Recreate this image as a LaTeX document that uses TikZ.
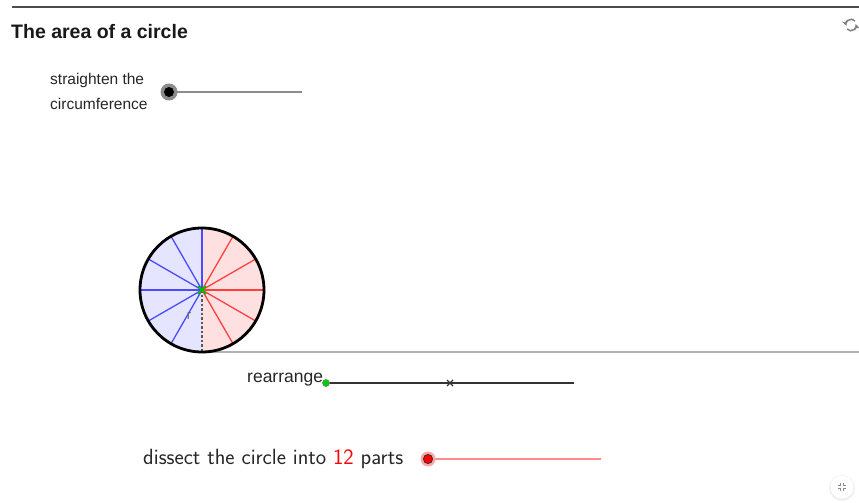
\documentclass[tikz,border=0pt]{standalone}
\usepackage{fontspec}
\setsansfont{Liberation Sans}
\newfontfamily\lmsans{Latin Modern Sans}
\begin{document}
\begin{tikzpicture}[x=1pt,y=-1pt,
  spokeB/.style={blue!70!white,line width=1.3pt},
  spokeR/.style={red!75!white,line width=1.3pt},
  lbl/.style={font=\sffamily\fontsize{15.5}{17}\selectfont,text=black!85,inner sep=0pt}]
\useasboundingbox (0,0) rectangle (859,503);
\fill[white] (0,0) rectangle (859,503);
% top rule
\draw[black!70,line width=1.1pt] (12,7) -- (859,7);
\node[font=\sffamily\bfseries\fontsize{19.5}{21}\selectfont,anchor=west,inner sep=0pt,text=black!90] (title) at (11,32) {The area of a circle};
% refresh icon
\node[inner sep=0pt] (refresh) at (851,25) {};
\draw[black!50,line width=1.5pt,-stealth] (refresh.center) ++(4pt,4pt) arc (40:200:5pt);
\draw[black!50,line width=1.5pt,-stealth] (refresh.center) ++(-4pt,-4pt) arc (220:380:5pt);
% slider 1
\node[lbl,anchor=west] (st1) at (50,80) {straighten the};
\node[lbl,anchor=west] (st2) at (50,104) {circumference};
\coordinate (s1a) at (169,92);
\coordinate (s1b) at (302,92);
\draw[black!45,line width=2pt] (s1a) -- (s1b);
\fill[black!45] (s1a) circle (8.5);
\fill[black] (s1a) circle (5);
% baseline
\coordinate (c) at (202,290);
\coordinate (base) at (202,352);
\coordinate (baseEnd) at (859,352);
\draw[black!30,line width=1.2pt] (base) -- (baseEnd);
% circle halves
\fill[blue!10] (c) -- ++(90:62pt) arc (90:270:62pt) -- cycle;
\fill[red!12] (c) -- ++(90:62pt) arc (90:-90:62pt) -- cycle;
\foreach \a in {90,120,150,180,210,240} \draw[spokeB] (c) -- ++(\a:62pt);
\foreach \a in {60,30,0,-30,-60} \draw[spokeR] (c) -- ++(\a:62pt);
\draw[black!65,dash pattern=on 2.5pt off 2pt,line width=1.3pt] (c) -- (base);
\node[font=\sffamily\fontsize{13}{13}\selectfont,text=black!60,inner sep=0pt] (r) at (189,316) {r};
\draw[black,line width=2.8pt] (c) circle (62);
\node[inner sep=0pt] (center) at (c) {};
\draw[green!75!black,line width=2pt] (c) ++(-4,-4) -- ++(8,8) (c) ++(-4,4) -- ++(8,-8);
% rearrange
\node[lbl,font=\sffamily\fontsize{17.5}{19}\selectfont,anchor=west] (re) at (247,380) {rearrange};
\coordinate (ra) at (326,383);
\coordinate (rb) at (574,383);
\coordinate (rm) at (450,383);
\draw[black!80,line width=1.7pt] (ra) -- (rb);
\draw[black!80,line width=1.1pt] (rm) ++(-3,-3) -- ++(6,6) (rm) ++(-3,3) -- ++(6,-6);
\fill[green!80!black] (ra) circle (3.6);
\draw[black!50,line width=0.5pt] (ra) circle (3.6);
% dissect
\node[anchor=west,inner sep=0pt,font=\lmsans\fontsize{22}{24}\selectfont,text=black!85] (dis) at (143,459) {dissect the circle into \textcolor{red}{12} parts};
\coordinate (da) at (428,459);
\coordinate (db) at (601,459);
\draw[red!45,line width=2pt] (da) -- (db);
\fill[red!35] (da) circle (7.5);
\fill[red] (da) circle (4.6);
\draw[black!80,line width=0.8pt] (da) circle (4.6);
% bottom-right button
\fill[black!6] (842,488) circle (13);
\fill[white] (842,487) circle (11.5);
\node[inner sep=0pt] (btn) at (842,487) {};
\foreach \sx/\sy in {1/1,-1/1,1/-1,-1/-1}
  \draw[black!45,line width=0.9pt] (842+\sx*1.5,487+\sy*4) -- (842+\sx*1.5,487+\sy*1.5) -- (842+\sx*4,487+\sy*1.5);
\end{tikzpicture}
\end{document}
